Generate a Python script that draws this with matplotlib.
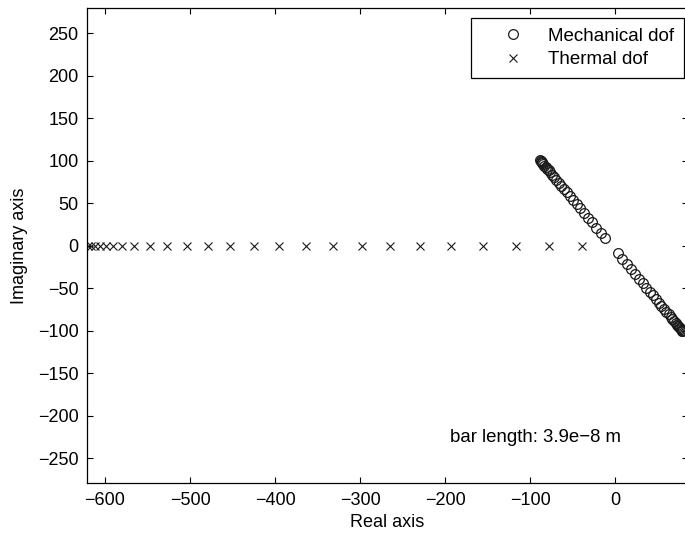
import numpy as np
import matplotlib.pyplot as plt

plt.rcParams['font.family'] = ['Liberation Sans', 'DejaVu Sans']

# poles of the thermal degrees of freedom (all on the real axis)
thermal_re = [-620.0, -616.5, -611.8, -605.9, -598.8, -590.6, -580.0, -565.9,
              -547.1, -527.1, -503.5, -478.8, -452.9, -424.7, -395.3, -363.9,
              -331.4, -298.0, -264.7, -229.4, -192.9, -154.9, -116.8, -77.6,
              -39.2]
thermal_im = [0.0] * len(thermal_re)

# poles of the mechanical degrees of freedom
mech_re = [-88.0, -87.5, -87.0, -86.2, -85.3, -84.2, -83.0, -81.6, -80.0,
           -78.2, -76.2, -74.0, -71.6, -69.0, -66.2, -63.2, -60.0, -56.6,
           -53.0, -49.2, -45.2, -41.0, -36.6, -32.0, -27.2, -22.2, -17.0,
           -11.6,
           3.0, 8.4, 13.6, 18.6, 23.4, 28.0, 32.4, 36.6, 40.6, 44.4, 48.0,
           51.4, 54.6, 57.6, 60.4, 63.0, 65.4, 67.6, 69.6, 71.4, 73.0, 74.4,
           75.6, 76.7, 77.6, 78.4, 78.9, 79.4]
mech_im = [100.4, 99.8, 99.2, 98.2, 97.2, 95.9, 94.4, 92.8, 90.8, 88.7, 86.3,
           83.6, 80.8, 77.6, 74.3, 70.7, 66.8, 62.8, 58.4, 53.9, 49.1, 44.0,
           38.8, 33.2, 27.5, 21.5, 15.2, 8.8,
           -8.8, -15.2, -21.5, -27.5, -33.2, -38.8, -44.0, -49.1, -53.9,
           -58.4, -62.8, -66.8, -70.7, -74.3, -77.6, -80.8, -83.6, -86.3,
           -88.7, -90.8, -92.8, -94.4, -95.9, -97.2, -98.2, -99.2, -99.8,
           -100.4]

xticks = np.arange(-600, 1, 100)
yticks = np.arange(-250, 251, 50)

fig = plt.figure(figsize=(6.85, 5.36), dpi=100)
ax = fig.add_axes([0.1270, 0.0983, 0.8774, 0.8862])

ax.plot(mech_re, mech_im, 'o', mfc='none', mec='#1a1a1a', ms=7, mew=0.9,
        label='Mechanical dof')
ax.plot(thermal_re, thermal_im, 'x', color='#1a1a1a', ms=6, mew=0.8,
        label='Thermal dof')

ax.set_xlim(-621.2, 85.9)
ax.set_ylim(-279.4, 279.4)
ax.set_xticks(xticks)
ax.set_yticks(yticks)
ax.set_xticklabels([str(t).replace('-', '\u2212') for t in xticks])
ax.set_yticklabels([str(t).replace('-', '\u2212') for t in yticks])
ax.tick_params(direction='in', length=4, width=0.8, top=True, right=True,
               labelsize=13, pad=6)
for s in ax.spines.values():
    s.set_linewidth(0.9)

ax.set_xlabel('Real axis', fontsize=13, labelpad=4)
ax.set_ylabel('Imaginary axis', fontsize=13, labelpad=7)

ax.text(-194, -226, 'bar length: 3.9e\u22128 m', fontsize=13.4, va='center')

leg = ax.legend(loc='upper right', bbox_to_anchor=(0.993, 0.979),
                fontsize=13.5, fancybox=False, framealpha=1,
                edgecolor='black', borderpad=0.5, handlelength=3.4,
                handletextpad=0.2, labelspacing=0.35, borderaxespad=0)
leg.get_frame().set_linewidth(0.9)

fig.savefig('out.png', dpi=100)
